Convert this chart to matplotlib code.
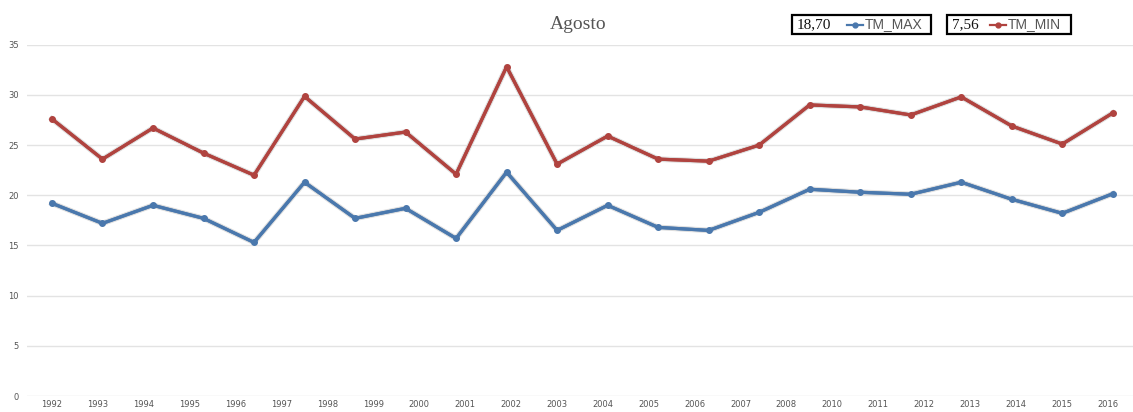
import matplotlib
matplotlib.use("Agg")
import matplotlib.pyplot as plt
import matplotlib.patheffects as pe
from matplotlib.lines import Line2D
from matplotlib.patches import Rectangle
import numpy as np

# Data
year_labels = ["1992", "1993", "1994", "1995", "1996", "1997", "1998", "1999",
               "2000", "2001", "2002", "2003", "2004", "2005", "2006", "2007",
               "2008", "2010", "2011", "2012", "2013", "2014", "2015", "2016"]
tm_min = [27.6, 23.6, 26.7, 24.2, 22.0, 29.85, 25.6, 26.3, 22.1, 32.8, 23.1,
          25.9, 23.6, 23.4, 25.0, 29.0, 28.8, 28.0, 29.8, 26.9, 25.1, 28.2]
tm_max = [19.2, 17.2, 19.0, 17.7, 15.3, 21.3, 17.7, 18.7, 15.7, 22.3, 16.5,
          19.0, 16.8, 16.5, 18.3, 20.6, 20.3, 20.1, 21.3, 19.6, 18.2, 20.15]
avg_max = "18,70"
avg_min = "7,56"

blue = "#4a78ad"
red = "#b0433f"

fig = plt.figure(figsize=(11.33, 4.12), dpi=100)
ax = fig.add_axes([0.0238, 0.0388, 0.9762, 0.8527])

x = np.arange(len(tm_min))
glow = [pe.withStroke(linewidth=4, foreground="#dddddd"), pe.Normal()]
ax.plot(x, tm_min, color=red, lw=2.3, path_effects=glow, zorder=3)
ax.plot(x, tm_max, color=blue, lw=2.3, path_effects=glow, zorder=3)
ax.plot(x, tm_min, color=red, lw=0, marker="o", ms=4, zorder=4)
ax.plot(x, tm_max, color=blue, lw=0, marker="o", ms=4, zorder=4)

ax.set_ylim(0, 35)
ax.set_xlim(-0.495, 21.4)
ax.set_yticks(range(0, 36, 5))
ax.set_xticks(np.linspace(0, 20.9, len(year_labels)))
ax.set_xticklabels(year_labels)
ax.tick_params(axis="both", length=0, labelsize=6, colors="#555555")
ax.tick_params(axis="y", pad=6)
ax.tick_params(axis="x", pad=3)
ax.grid(axis="y", color="#e3e3e3", lw=1)
ax.set_axisbelow(True)
for s in ax.spines.values():
    s.set_visible(False)

fig.text(0.51, 0.94, "Agosto", ha="center", va="center", fontsize=14,
         family="Liberation Serif", color="#555555")

# legend boxes
W, H = 1133, 412
yc = 1 - 24.5 / H

def legend_box(x0, x1, value, label, color, lx):
    fig.patches.append(Rectangle((x0 / W, 1 - 34 / H), (x1 - x0) / W, 19 / H,
                                 transform=fig.transFigure, fill=False,
                                 ec="black", lw=1.6))
    fig.text((x0 + 5) / W, yc, value, ha="left", va="center",
             fontsize=11, family="Liberation Serif", color="#111111")
    fig.lines.append(Line2D([lx / W, (lx + 16) / W], [yc, yc],
                            transform=fig.transFigure, color=color, lw=1.6))
    fig.lines.append(Line2D([(lx + 8) / W], [yc], transform=fig.transFigure,
                            color=color, marker="o", ms=3.5))
    fig.text((lx + 18) / W, yc, label, ha="left", va="center",
             fontsize=10, family="Liberation Sans", color="#555555")

legend_box(792, 931, avg_max, "TM_MAX", blue, 847)
legend_box(947, 1071, avg_min, "TM_MIN", red, 990)

fig.savefig("out.png", dpi=100, facecolor="white")
